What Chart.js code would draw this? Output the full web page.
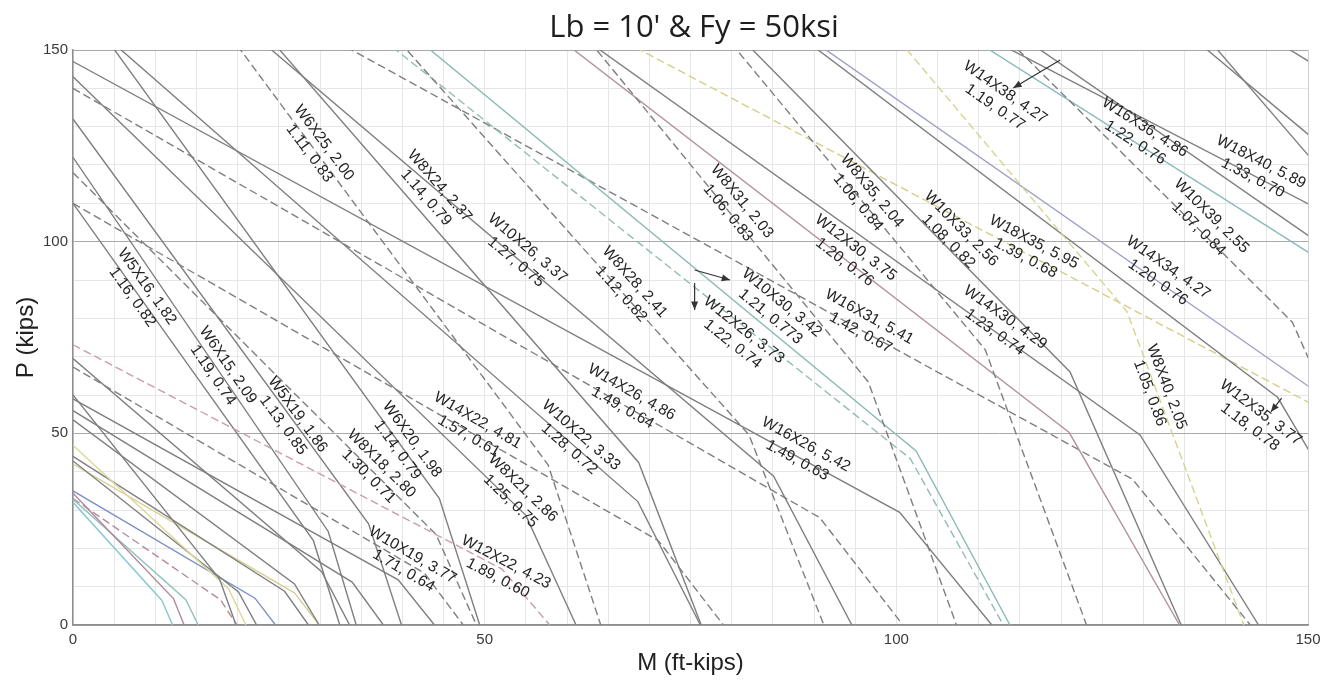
<!DOCTYPE html>
<html>
<head>
<meta charset="utf-8">
<script src="https://cdn.jsdelivr.net/npm/chart.js@4.4.1/dist/chart.umd.min.js"></script>
<style>
  html, body { margin: 0; padding: 0; background: #fff; }
  canvas { display: block; }
</style>
</head>
<body>
<canvas id="pmChart" width="1334" height="681"></canvas>
<script>
// P-M interaction curves, Lb = 10 ft, Fy = 50 ksi
// each curve: (0, axialCap) -> (kinkM, kinkP) -> (flexCap, 0)
const shapes = [
  'W4X13', 'W6X8.5', 'W6X9', 'W6X12', 'W6X16', 'W8X10', 'W8X13', 'W8X15',
  'W10X12', 'W10X15', 'W10X17', 'W12X14', 'W12X16', 'W12X19', 'W10X19', 'W12X22',
  'W5X16', 'W5X19', 'W6X15', 'W6X20', 'W6X25', 'W8X18', 'W8X21', 'W8X24',
  'W8X28', 'W8X31', 'W8X35', 'W8X40', 'W10X22', 'W10X26', 'W10X30', 'W10X33',
  'W10X39', 'W12X26', 'W12X30', 'W12X35', 'W14X22', 'W14X26', 'W14X30', 'W14X34',
  'W14X38', 'W16X26', 'W16X31', 'W16X36', 'W18X35', 'W18X40', 'W8X48', 'W12X40',
  'W16X40'
];
const axialCap = [
  60, 32, 34.4, 46.9, 69.5, 32.8, 42.8, 53.5,
  33, 44, 55.9, 35, 42, 59, 67.3, 73.1,
  110, 132, 122, 165, 209, 118, 143, 212,
  248, 317, 359, 409, 161, 194, 227, 330,
  395, 217, 251, 297, 110, 140, 248, 287,
  325, 147, 190, 302, 228, 277, 497, 398,
  346
];
const kinkM = [
  17.8, 10.8, 12.2, 18.9, 30.2, 13.7, 20.1, 26.9,
  17.9, 25.7, 33.9, 22.1, 26.9, 39.5, 42.7, 52.1,
  29.2, 35.9, 31.0, 44.5, 57.7, 44.1, 55.0, 68.7,
  82.1, 96.6, 110.8, 128.0, 68.6, 85.1, 102.4, 121.1,
  148.1, 101.7, 121.0, 146.3, 71.1, 90.7, 129.6, 153.3,
  174.6, 100.4, 128.7, 177.0, 161.1, 198.9, 159.3, 176.9,
  208.8
];
const kinkP = [
  12.0, 6.4, 6.9, 9.4, 13.9, 6.6, 8.6, 10.7,
  6.6, 8.8, 11.2, 7.0, 8.4, 11.8, 13.5, 14.6,
  22.0, 26.4, 24.4, 33.0, 41.8, 23.6, 28.6, 42.4,
  49.6, 63.4, 71.8, 81.8, 32.2, 38.8, 45.4, 66.0,
  79.0, 43.4, 50.2, 59.4, 22.0, 28.0, 49.6, 57.4,
  65.0, 29.4, 38.0, 60.4, 45.6, 55.4, 99.4, 79.6,
  69.2
];
const flexCap = [
  19.8, 12.1, 13.5, 21.0, 33.6, 15.2, 22.3, 29.9,
  19.9, 28.6, 37.7, 24.6, 29.9, 43.9, 47.4, 57.9,
  32.4, 39.9, 34.4, 49.4, 64.1, 49.0, 61.1, 76.3,
  91.2, 107.3, 123.1, 142.2, 76.2, 94.6, 113.8, 134.6,
  164.5, 113.0, 134.4, 162.6, 79.0, 100.8, 144.0, 170.3,
  194.0, 111.6, 143.0, 196.7, 179.0, 221.0, 177.0, 196.5,
  232.0
];

// annotated shapes
const labelShapes = [
  'W5X16', 'W6X15', 'W5X19', 'W6X25', 'W8X24', 'W10X26', 'W8X28', 'W8X31',
  'W8X35', 'W10X33', 'W12X30', 'W10X30', 'W12X26', 'W16X31', 'W14X30', 'W18X35',
  'W14X38', 'W16X36', 'W18X40', 'W10X39', 'W14X34', 'W8X40', 'W12X35', 'W6X20',
  'W8X18', 'W14X22', 'W10X22', 'W14X26', 'W16X26', 'W8X21', 'W10X19', 'W12X22'
];
const labelTop = [
  'W5X16, 1.82', 'W6X15, 2.09', 'W5X19, 1.86', 'W6X25, 2.00', 'W8X24, 2.37', 'W10X26, 3.37', 'W8X28, 2.41', 'W8X31, 2.03',
  'W8X35, 2.04', 'W10X33, 2.56', 'W12X30, 3.75', 'W10X30, 3.42', 'W12X26, 3.73', 'W16X31, 5.41', 'W14X30, 4.29', 'W18X35, 5.95',
  'W14X38, 4.27', 'W16X36, 4.86', 'W18X40, 5.89', 'W10X39, 2.55', 'W14X34, 4.27', 'W8X40, 2.05', 'W12X35, 3.77', 'W6X20, 1.98',
  'W8X18, 2.80', 'W14X22, 4.81', 'W10X22, 3.33', 'W14X26, 4.86', 'W16X26, 5.42', 'W8X21, 2.86', 'W10X19, 3.77', 'W12X22, 4.23'
];
const labelBottom = [
  '1.16, 0.82', '1.19, 0.74', '1.13, 0.85', '1.11, 0.83', '1.14, 0.79', '1.27, 0.75', '1.12, 0.82', '1.06, 0.83',
  '1.06, 0.84', '1.08, 0.82', '1.20, 0.76', '1.21, 0.773', '1.22, 0.74', '1.42, 0.67', '1.23, 0.74', '1.39, 0.68',
  '1.19, 0.77', '1.22, 0.76', '1.33, 0.70', '1.07, 0.84', '1.20, 0.76', '1.05, 0.86', '1.18, 0.78', '1.14, 0.79',
  '1.30, 0.71', '1.57, 0.61', '1.28, 0.72', '1.49, 0.64', '1.49, 0.63', '1.25, 0.75', '1.71, 0.64', '1.89, 0.60'
];
// label centres (M, P)
const labelSpots = [
  [8.1, 86.9], [17.9, 66.5], [26.4, 53.5], [29.6, 124.4], [43.7, 113.0], [54.5, 96.5], [67.4, 87.9], [80.4, 109.0],
  [96.2, 111.7], [107.1, 101.7], [94.4, 96.5], [85.4, 82.2], [80.8, 75.1], [96.2, 78.3], [112.6, 78.3], [116.2, 97.8],
  [112.6, 137.0], [129.6, 127.8], [143.8, 118.7], [137.5, 105.0], [132.4, 91.3], [131.8, 61.3], [143.6, 53.5], [40.3, 47.0],
  [36.7, 40.4], [48.6, 51.3], [61.0, 47.7], [67.3, 58.7], [88.5, 45.0], [53.9, 34.0], [40.7, 16.2], [52.1, 14.3]
];
// pointer arrows from a curve to its label
const arrowTails = [[119.9, 147.4], [75.5, 92.6], [75.5, 89.2], [146.8, 59.2]];
const arrowHeads = [[114.2, 140.1], [79.8, 90.0], [75.5, 82.2], [145.5, 55.6]];

const dashedShapes = ['W6X25', 'W8X18', 'W8X28', 'W8X31', 'W8X35', 'W8X40', 'W10X19', 'W12X22',
  'W10X39', 'W12X26', 'W14X22', 'W14X26', 'W16X31', 'W18X35', 'W10X12'];
const tints = {
  'W8X40': '#d6d48f', 'W18X35': '#d3cf88', 'W14X34': '#9c9ec6', 'W16X36': '#8dbaba',
  'W10X30': '#8cbab5', 'W12X26': '#93bbb6', 'W12X30': '#b4929c', 'W12X22': '#c99ea6',
  'W6X8.5': '#89c9cf', 'W6X9': '#b0879f', 'W8X10': '#8fc2bc', 'W12X14': '#7e8fc6',
  'W6X12': '#dcd99a', 'W12X16': '#d5d192', 'W10X12': '#b58b9b'
};
const GRAY = '#7f7f7f';

const curvePoints = i => [[0, axialCap[i]], [kinkM[i], kinkP[i]], [flexCap[i], 0]];

const datasets = shapes.map((name, i) => ({
  label: name,
  data: curvePoints(i).map(([m, p]) => ({ x: m, y: p })),
  borderColor: tints[name] || GRAY,
  borderWidth: 1.4,
  borderDash: dashedShapes.includes(name) ? [8, 4] : [],
  pointRadius: 0,
  fill: false,
  tension: 0
}));

const annotations = {
  id: 'annotations',
  afterDatasetsDraw(chart) {
    const { ctx, scales: { x, y } } = chart;
    const px = m => x.getPixelForValue(m);
    const py = p => y.getPixelForValue(p);

    ctx.save();
    ctx.font = '15.5px "Liberation Sans", Arial, sans-serif';
    ctx.fillStyle = '#242424';
    ctx.textAlign = 'center';
    ctx.textBaseline = 'middle';
    labelShapes.forEach((name, i) => {
      const pts = curvePoints(shapes.indexOf(name));
      const [m, p] = labelSpots[i];
      let s = 0;
      while (s < pts.length - 2 && pts[s + 1][0] < m) s++;
      const a = pts[s], b = pts[s + 1];
      const ang = Math.atan2(py(b[1]) - py(a[1]), px(b[0]) - px(a[0]));
      ctx.save();
      ctx.translate(px(m), py(p));
      ctx.rotate(ang);
      ctx.fillText(labelTop[i], 0, -9);
      ctx.fillText(labelBottom[i], 0, 9);
      ctx.restore();
    });

    // arrows
    ctx.strokeStyle = '#333';
    ctx.fillStyle = '#333';
    ctx.lineWidth = 1.2;
    arrowTails.forEach((t, i) => {
      const x0 = px(t[0]), y0 = py(t[1]);
      const x1 = px(arrowHeads[i][0]), y1 = py(arrowHeads[i][1]);
      const ang = Math.atan2(y1 - y0, x1 - x0);
      ctx.beginPath();
      ctx.moveTo(x0, y0);
      ctx.lineTo(x1, y1);
      ctx.stroke();
      ctx.beginPath();
      ctx.moveTo(x1, y1);
      ctx.lineTo(x1 - 9 * Math.cos(ang - 0.4), y1 - 9 * Math.sin(ang - 0.4));
      ctx.lineTo(x1 - 9 * Math.cos(ang + 0.4), y1 - 9 * Math.sin(ang + 0.4));
      ctx.closePath();
      ctx.fill();
    });

    // title
    ctx.font = '31px "Open Sans", sans-serif';
    ctx.fillStyle = '#1e1e1e';
    ctx.textBaseline = 'alphabetic';
    ctx.fillText("Lb = 10' & Fy = 50ksi", 694, 37);
    ctx.restore();
  }
};

const tickFont = { family: '"Liberation Sans", Arial, sans-serif', size: 15 };
const titleFont = { family: '"Liberation Sans", Arial, sans-serif', size: 24 };

new Chart(document.getElementById('pmChart'), {
  type: 'line',
  data: { datasets },
  plugins: [annotations],
  options: {
    responsive: false,
    animation: false,
    events: [],
    layout: { padding: { top: 50, right: 26, left: 0, bottom: 0 } },
    plugins: {
      legend: { display: false },
      title: { display: false },
      tooltip: { enabled: false }
    },
    scales: {
      x: {
        type: 'linear',
        min: 0,
        max: 150,
        afterFit: s => { s.height = 56; },
        ticks: {
          stepSize: 5,
          autoSkip: false,
          maxRotation: 0,
          padding: 6,
          color: '#3a3a3a',
          font: tickFont,
          callback: v => (v % 50 === 0 ? v : '')
        },
        grid: {
          drawTicks: false,
          color: c => (c.tick && c.tick.value === 150 ? '#cfcfcf' : '#e6e6e6'),
          lineWidth: 1
        },
        border: { color: '#8e8e8e', width: 1.5 },
        title: {
          display: true,
          text: 'M (ft-kips)',
          color: '#222',
          font: titleFont,
          padding: { top: 0, bottom: 3 }
        }
      },
      y: {
        type: 'linear',
        min: 0,
        max: 150,
        afterFit: s => { s.width = 73; },
        ticks: {
          stepSize: 10,
          autoSkip: false,
          padding: 5,
          color: '#3a3a3a',
          font: tickFont,
          callback: v => (v % 50 === 0 ? v : '')
        },
        grid: {
          drawTicks: false,
          color: c => (c.tick && c.tick.value % 50 === 0 ? '#a9a9a9' : '#e6e6e6'),
          lineWidth: 1
        },
        border: { color: '#8e8e8e', width: 1.5 },
        title: {
          display: true,
          text: 'P (kips)',
          color: '#222',
          font: titleFont,
          padding: { top: 12, bottom: 0 }
        }
      }
    }
  }
});
</script>
</body>
</html>
